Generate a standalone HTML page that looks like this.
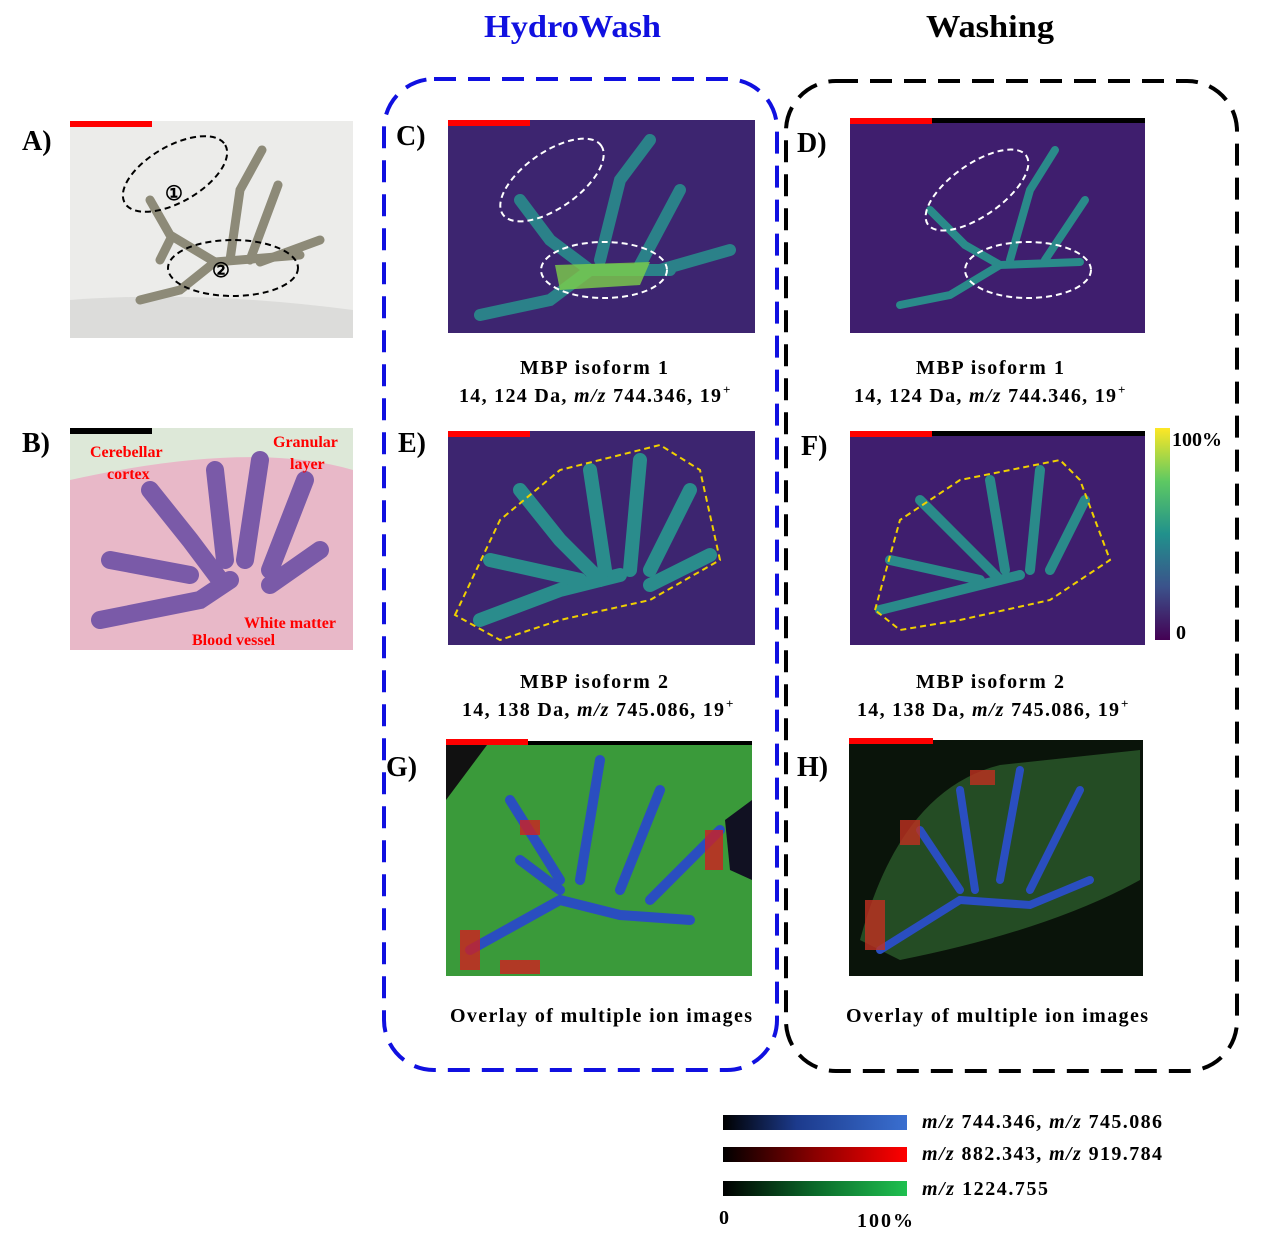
<!DOCTYPE html>
<html><head><meta charset="utf-8"><style>
body{margin:0;background:#fff;width:1269px;height:1241px;overflow:hidden;font-family:"Liberation Serif",serif;}
svg text{font-family:"Liberation Serif",serif;font-weight:bold;}
</style></head><body>
<svg width="1269" height="1241" viewBox="0 0 1269 1241" xmlns="http://www.w3.org/2000/svg">
<defs>
<linearGradient id="vir" x1="0" y1="1" x2="0" y2="0">
<stop offset="0" stop-color="#440154"/><stop offset="0.25" stop-color="#3b528b"/><stop offset="0.5" stop-color="#21918c"/><stop offset="0.75" stop-color="#5ec962"/><stop offset="1" stop-color="#fde725"/></linearGradient>
<linearGradient id="gb" x1="0" x2="1"><stop offset="0" stop-color="#000"/><stop offset="0.4" stop-color="#1c3a8c"/><stop offset="1" stop-color="#3a6fd0"/></linearGradient>
<linearGradient id="gr" x1="0" x2="1"><stop offset="0" stop-color="#000"/><stop offset="0.5" stop-color="#8a0000"/><stop offset="1" stop-color="#ff0000"/></linearGradient>
<linearGradient id="gg" x1="0" x2="1"><stop offset="0" stop-color="#000"/><stop offset="0.5" stop-color="#0b6a2a"/><stop offset="1" stop-color="#1fc050"/></linearGradient>
</defs>
<text x="484" y="37" font-size="32" fill="#1010e0" textLength="177" lengthAdjust="spacingAndGlyphs">HydroWash</text>
<text x="926" y="37" font-size="32" fill="#000" textLength="128" lengthAdjust="spacingAndGlyphs">Washing</text>
<rect x="384" y="79" width="393" height="991" rx="50" fill="none" stroke="#1010e0" stroke-width="4" stroke-dasharray="22,12"/>
<rect x="786" y="81" width="451" height="990" rx="50" fill="none" stroke="#000" stroke-width="4" stroke-dasharray="22,12"/>
<g font-size="28" fill="#000">
<text x="22" y="150">A)</text><text x="22" y="452">B)</text>
<text x="396" y="145">C)</text><text x="797" y="152">D)</text>
<text x="398" y="452">E)</text><text x="801" y="455">F)</text>
<text x="386" y="776">G)</text><text x="797" y="776">H)</text>
</g>
<!-- A -->
<rect x="70" y="121" width="283" height="217" fill="#ececea"/>
<path d="M70 300 Q200 290 353 310 L353 338 L70 338Z" fill="#dcdcda"/>
<g stroke="#8d8a78" stroke-width="9" fill="none" stroke-linecap="round">
<path d="M150 200 L170 235 L215 262 L300 255"/><path d="M215 262 L180 290 L140 300"/>
<path d="M230 260 L240 190 L262 150"/><path d="M250 260 L278 185"/><path d="M260 262 L320 240"/><path d="M170 240 L160 260"/>
</g>
<rect x="70" y="121" width="82" height="6" fill="#f00"/>
<ellipse cx="175" cy="174" rx="58" ry="28" transform="rotate(-30 175 174)" fill="none" stroke="#000" stroke-width="2" stroke-dasharray="6,4"/>
<ellipse cx="233" cy="268" rx="65" ry="28" fill="none" stroke="#000" stroke-width="2" stroke-dasharray="6,4"/>
<text x="165" y="200" font-size="20" font-weight="normal">①</text><text x="212" y="277" font-size="20" font-weight="normal">②</text>
<!-- B -->
<rect x="70" y="428" width="283" height="222" fill="#e8b8c8"/>
<path d="M70 428 L353 428 L353 470 Q250 440 70 480Z" fill="#dde8d8"/>
<g stroke="#7a5aa8" stroke-width="18" fill="none" stroke-linecap="round">
<path d="M100 620 L200 600 L230 580"/><path d="M110 560 L190 575"/><path d="M150 490 L190 540 L220 580"/><path d="M215 470 L225 560"/><path d="M260 460 L245 560"/><path d="M305 480 L270 570"/><path d="M320 550 L270 585"/></g>
<rect x="70" y="428" width="82" height="6" fill="#000"/>
<g font-size="16" fill="#f00"><text x="90" y="457">Cerebellar</text><text x="107" y="479">cortex</text><text x="273" y="447">Granular</text><text x="290" y="469">layer</text><text x="244" y="628">White matter</text><text x="192" y="645">Blood vessel</text></g>
<!-- C -->
<rect x="448" y="120" width="307" height="213" fill="#3d2570"/>
<g stroke="#2a8c8c" stroke-width="12" fill="none" stroke-linecap="round" opacity="0.9">
<path d="M520 200 L550 240 L590 270 L670 270"/><path d="M590 270 L550 300 L480 315"/><path d="M600 260 L620 180 L650 140"/><path d="M640 265 L680 190"/><path d="M660 270 L730 250"/></g>
<path d="M555 265 L650 262 L640 285 L560 290Z" fill="#7dd04a" opacity="0.8"/>
<rect x="448" y="120" width="82" height="6" fill="#f00"/>
<ellipse cx="552" cy="180" rx="60" ry="28" transform="rotate(-35 552 180)" fill="none" stroke="#fff" stroke-width="2" stroke-dasharray="6,4"/>
<ellipse cx="604" cy="270" rx="63" ry="28" fill="none" stroke="#fff" stroke-width="2" stroke-dasharray="6,4"/>
<rect x="850" y="118" width="295" height="215" fill="#3f1e6e"/>
<g stroke="#2a8a8a" stroke-width="8" fill="none" stroke-linecap="round"><path d="M930 210 L965 245 L1000 265 L1080 262"/><path d="M1000 265 L950 295 L900 305"/><path d="M1010 260 L1030 190 L1055 150"/><path d="M1045 260 L1085 200"/></g>
<rect x="850" y="118" width="295" height="5" fill="#000"/><rect x="850" y="118" width="82" height="6" fill="#f00"/>
<ellipse cx="977" cy="190" rx="60" ry="26" transform="rotate(-35 977 190)" fill="none" stroke="#fff" stroke-width="2" stroke-dasharray="6,4"/>
<ellipse cx="1028" cy="270" rx="63" ry="28" fill="none" stroke="#fff" stroke-width="2" stroke-dasharray="6,4"/>
<!-- E -->
<rect x="448" y="431" width="307" height="214" fill="#3d2570"/>
<g stroke="#2a8c8c" stroke-width="14" fill="none" stroke-linecap="round"><path d="M480 620 L560 590 L620 575"/><path d="M490 560 L580 580"/><path d="M520 490 L560 540 L600 580"/><path d="M590 470 L605 570"/><path d="M640 460 L630 570"/><path d="M690 490 L650 570"/><path d="M710 555 L650 585"/></g>
<rect x="448" y="431" width="82" height="6" fill="#f00"/>
<path d="M455 615 L500 520 L560 470 L660 445 L700 470 L720 560 L650 600 L560 620 L500 640Z" fill="none" stroke="#f0d000" stroke-width="2" stroke-dasharray="6,4"/>
<rect x="850" y="431" width="295" height="214" fill="#3f1e6e"/>
<g stroke="#2a8a8a" stroke-width="10" fill="none" stroke-linecap="round"><path d="M880 610 L960 590 L1020 575"/><path d="M890 560 L980 580"/><path d="M920 500 L960 540 L1000 580"/><path d="M990 480 L1005 570"/><path d="M1040 470 L1030 570"/><path d="M1085 500 L1050 570"/></g>
<rect x="850" y="431" width="295" height="5" fill="#000"/><rect x="850" y="431" width="82" height="6" fill="#f00"/>
<path d="M875 610 L900 520 L960 480 L1060 460 L1080 480 L1110 560 L1050 600 L960 620 L900 630Z" fill="none" stroke="#f0d000" stroke-width="2" stroke-dasharray="6,4"/>
<!-- colorbar -->
<rect x="1155" y="428" width="15" height="212" fill="url(#vir)"/>
<text x="1172" y="446" font-size="20">100%</text><text x="1176" y="639" font-size="20">0</text>
<!-- G -->
<rect x="446" y="741" width="306" height="235" fill="#3a9a3a"/>
<path d="M446 741 L490 741 L446 800Z" fill="#111"/><path d="M725 820 L752 800 L752 880 L730 870Z" fill="#112"/>
<g stroke="#2a4ec0" stroke-width="10" fill="none" stroke-linecap="round"><path d="M470 950 L560 900 L620 915 L690 920"/><path d="M520 860 L560 890"/><path d="M510 800 L560 880"/><path d="M600 760 L580 880"/><path d="M660 790 L620 890"/><path d="M720 830 L650 900"/></g>
<g fill="#d02020" opacity="0.8"><rect x="460" y="930" width="20" height="40"/><rect x="520" y="820" width="20" height="15"/><rect x="705" y="830" width="18" height="40"/><rect x="500" y="960" width="40" height="14"/></g>
<rect x="446" y="741" width="306" height="4" fill="#000"/><rect x="446" y="739" width="82" height="6" fill="#f00"/>
<!-- H -->
<rect x="849" y="740" width="294" height="236" fill="#0a140a"/>
<path d="M860 940 Q900 790 1000 765 L1140 750 L1140 880 Q1050 930 900 960Z" fill="#2a5a2a" opacity="0.8"/>
<g stroke="#2a4ec0" stroke-width="8" fill="none" stroke-linecap="round"><path d="M880 950 L960 900 L1030 905 L1090 880"/><path d="M920 830 L960 890"/><path d="M960 790 L975 890"/><path d="M1020 770 L1000 880"/><path d="M1080 790 L1030 890"/></g>
<g fill="#c03020" opacity="0.8"><rect x="865" y="900" width="20" height="50"/><rect x="900" y="820" width="20" height="25"/><rect x="970" y="770" width="25" height="15"/></g>
<rect x="849" y="738" width="84" height="6" fill="#f00"/>
<!-- captions -->
<g font-size="20">
<text x="520" y="374" textLength="148" lengthAdjust="spacing">MBP isoform 1</text>
<text x="459" y="402" textLength="262" lengthAdjust="spacing">14, 124 Da, <tspan font-style="italic">m/z</tspan> 744.346, 19</text><text x="723" y="394" font-size="13">+</text>
<text x="916" y="374" textLength="148" lengthAdjust="spacing">MBP isoform 1</text>
<text x="854" y="402" textLength="262" lengthAdjust="spacing">14, 124 Da, <tspan font-style="italic">m/z</tspan> 744.346, 19</text><text x="1118" y="394" font-size="13">+</text>
<text x="520" y="688" textLength="148" lengthAdjust="spacing">MBP isoform 2</text>
<text x="462" y="716" textLength="262" lengthAdjust="spacing">14, 138 Da, <tspan font-style="italic">m/z</tspan> 745.086, 19</text><text x="726" y="708" font-size="13">+</text>
<text x="916" y="688" textLength="148" lengthAdjust="spacing">MBP isoform 2</text>
<text x="857" y="716" textLength="262" lengthAdjust="spacing">14, 138 Da, <tspan font-style="italic">m/z</tspan> 745.086, 19</text><text x="1121" y="708" font-size="13">+</text>
<text x="450" y="1022" textLength="302" lengthAdjust="spacing">Overlay of multiple ion images</text>
<text x="846" y="1022" textLength="302" lengthAdjust="spacing">Overlay of multiple ion images</text>
</g>
<!-- legend -->
<rect x="723" y="1115" width="184" height="15" fill="url(#gb)"/>
<rect x="723" y="1147" width="184" height="15" fill="url(#gr)"/>
<rect x="723" y="1181" width="184" height="15" fill="url(#gg)"/>
<g font-size="20"><text x="922" y="1128" textLength="240" lengthAdjust="spacing"><tspan font-style="italic">m/z</tspan> 744.346, <tspan font-style="italic">m/z</tspan> 745.086</text>
<text x="922" y="1160" textLength="240" lengthAdjust="spacing"><tspan font-style="italic">m/z</tspan> 882.343, <tspan font-style="italic">m/z</tspan> 919.784</text>
<text x="922" y="1195" textLength="126" lengthAdjust="spacing"><tspan font-style="italic">m/z</tspan> 1224.755</text>
<text x="719" y="1224">0</text><text x="857" y="1227" textLength="56" lengthAdjust="spacing">100%</text></g>
</svg>
</body></html>
